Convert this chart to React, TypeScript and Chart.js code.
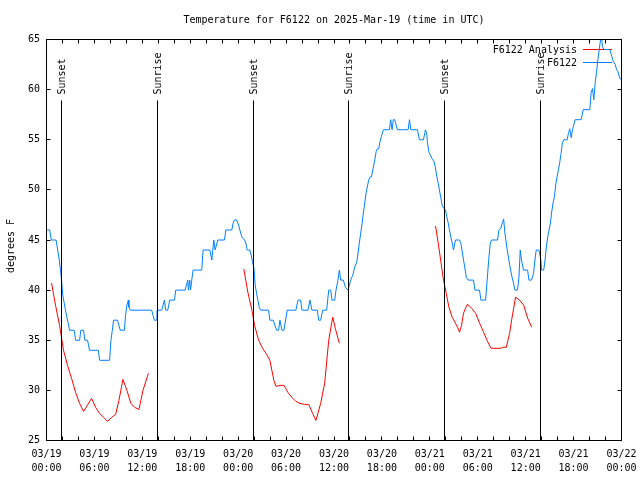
import { useEffect, useRef } from 'react';
import { Chart, registerables } from 'chart.js';

Chart.register(...registerables);

const TITLE = 'Temperature for F6122 on 2025-Mar-19 (time in UTC)';
const Y_LABEL = 'degrees F';
const SERIES_NAMES = ['F6122 Analysis', 'F6122'];
const SERIES_COLORS = ['#ff0000', '#0080ff'];
const DAY_LABELS = ['03/19', '03/20', '03/21', '03/22'];
const X_MIN_HOURS = 0;
const X_MAX_HOURS = 72;
const Y_MIN = 25;
const Y_MAX = 65;

// Sunset / sunrise events (hours since 03/19 00:00 UTC)
const sunEventHours = [1.9, 13.85, 25.9, 37.8, 49.85, 61.9];
const sunEventLabels = ['Sunset', 'Sunrise', 'Sunset', 'Sunrise', 'Sunset', 'Sunrise'];

// Analysis series, three nights: [hour, degF]
const analysisNight1: [number, number][] = [
  [0.63, 40.7], [1.13, 38.5], [1.63, 36.5], [2.13, 34], [2.63, 32.5], [3.14, 31.2], [3.64, 29.8],
  [4.14, 28.7], [4.64, 27.9], [5.64, 29.2], [6.15, 28.3], [6.65, 27.7], [7.15, 27.3], [7.65, 26.9],
  [8.15, 27.3], [8.66, 27.6], [9.07, 29], [9.57, 31.1], [10.07, 30], [10.57, 28.7], [11.04, 28.3],
  [11.58, 28.1], [12.08, 30], [12.76, 31.7],
];
const analysisNight2: [number, number][] = [
  [24.71, 42.1], [25.21, 39.8], [25.72, 38], [26.05, 36.5], [26.56, 35], [27.06, 34.2], [27.56, 33.6],
  [27.97, 33], [28.47, 31], [28.73, 30.4], [29.23, 30.5], [29.73, 30.5], [30.23, 29.8], [30.73, 29.3],
  [31.23, 28.9], [31.74, 28.7], [32.33, 28.6], [32.83, 28.6], [33.33, 27.7], [33.74, 27], [34.33, 28.7],
  [34.83, 30.7], [35.34, 35], [35.84, 37.3], [36.16, 36.2], [36.67, 34.7],
];
const analysisNight3: [number, number][] = [
  [48.71, 46.4], [49.05, 44.7], [49.39, 42.8], [49.71, 41], [50.05, 39.7], [50.39, 38.3], [50.8, 37.3],
  [51.14, 36.8], [51.47, 36.3], [51.72, 35.8], [51.97, 36.5], [52.22, 37.7], [52.47, 38.2], [52.72, 38.6],
  [53.22, 38.2], [53.73, 37.7], [54.23, 36.7], [54.73, 35.8], [55.16, 35], [55.66, 34.2], [56.91, 34.2],
  [57.07, 34.3], [57.58, 34.3], [57.99, 35.7], [58.24, 37], [58.74, 39.3], [59.24, 39], [59.75, 38.5],
  [60.25, 37.2], [60.75, 36.3],
];

// Observed series: [hour, degF]
const observedDay1: [number, number][] = [
  [0, 46], [0.4, 46], [0.6, 45], [1.2, 45], [1.4, 44], [1.6, 43], [1.75, 42], [1.88, 41], [2.04, 39.5],
  [2.22, 38.7], [2.38, 38], [2.55, 37.3], [2.72, 36.7], [2.89, 36], [3.47, 36], [3.64, 35], [4.14, 35],
  [4.3, 36], [4.64, 36], [4.8, 35], [5.14, 35], [5.39, 34], [6.49, 34], [6.65, 33], [7.9, 33], [8.07, 35],
  [8.24, 36], [8.4, 37], [8.9, 37], [9.06, 36.5], [9.24, 36], [9.75, 36], [9.9, 37.5], [10.07, 38.5],
  [10.25, 39], [10.32, 38.3], [10.5, 38], [13.17, 38], [13.33, 37.5], [13.5, 37], [13.75, 37], [13.83, 38],
  [14.43, 38], [14.6, 38.5], [14.76, 39], [14.93, 38], [15.18, 38], [15.43, 39], [16.02, 39], [16.18, 40],
  [17.35, 40], [17.69, 41], [17.77, 40], [17.94, 41], [18.03, 40], [18.35, 42], [19.44, 42], [19.61, 44],
  [20.45, 44], [20.7, 43], [20.95, 45], [21.11, 44], [21.45, 45], [22.29, 45], [22.45, 46], [23.21, 46],
  [23.37, 46.7], [23.55, 47], [23.8, 47],
];
const observedDay2: [number, number][] = [
  [24.05, 46.5], [24.21, 46], [24.46, 45.3], [24.8, 45], [24.96, 44.7], [25.13, 44], [25.46, 44],
  [25.63, 43.5], [25.8, 42.8], [25.97, 42.2], [26.05, 41.5], [26.13, 40.5], [26.3, 39.7], [26.47, 39],
  [26.63, 38.3], [26.81, 38], [27.81, 38], [27.97, 37], [28.39, 37], [28.81, 36], [29.06, 36], [29.23, 37],
  [29.48, 36], [29.73, 36], [30.14, 38], [31.23, 38], [31.49, 39], [31.82, 39], [31.99, 38], [32.74, 38],
  [32.99, 39], [33.24, 38], [33.91, 38], [34.08, 37], [34.33, 37], [34.58, 38], [35.08, 38], [35.34, 40],
  [35.59, 40], [35.75, 39], [36.09, 39], [36.25, 40], [36.5, 41], [36.67, 42], [36.84, 41], [37.17, 41],
  [37.42, 40.3], [37.76, 40], [38.09, 41], [38.35, 41.5], [38.6, 42.3], [38.85, 42.8], [39.01, 43.7],
  [39.17, 44.7], [39.35, 45.7], [39.52, 46.7], [39.68, 47.7], [39.85, 48.7], [40.02, 49.7], [40.35, 51],
  [40.52, 51.3], [40.68, 51.3], [40.86, 52], [41.11, 53], [41.27, 53.8], [41.43, 54.1], [41.6, 54.1],
  [41.76, 54.8], [41.93, 55.3], [42.1, 55.8], [42.18, 56], [42.93, 56], [43.1, 57], [43.27, 56], [43.43, 57],
  [43.6, 57], [43.77, 56.5], [43.94, 56], [45.28, 56], [45.45, 57], [45.62, 56], [46.45, 56], [46.7, 55],
  [47.2, 55], [47.38, 55.7], [47.45, 56], [47.63, 55.5], [47.7, 54.7], [47.88, 53.8],
];
const observedDay3: [number, number][] = [
  [48.04, 53.5], [48.29, 53.1], [48.54, 52.8], [48.7, 52.2], [48.88, 51.3], [49.04, 50.7], [49.2, 50],
  [49.38, 49.2], [49.54, 48.5], [49.7, 48.2], [49.96, 48], [50.13, 47.3], [50.3, 46.7], [50.46, 46],
  [50.63, 45.3], [50.8, 44.7], [50.96, 44], [51.21, 45], [51.71, 45], [51.88, 44.7], [52.06, 43.8],
  [52.22, 43], [52.39, 42.2], [52.56, 41.3], [52.81, 41], [53.47, 41], [53.65, 40], [54.22, 40], [54.4, 39],
  [54.98, 39], [55.15, 40.7], [55.4, 43.3], [55.57, 44.7], [55.73, 45], [56.48, 45], [56.65, 46],
  [56.9, 46.2], [57.07, 46.7], [57.24, 47.1], [57.4, 45.7], [57.57, 44.7], [57.73, 43.8], [57.9, 43],
  [58.07, 42.2], [58.23, 41.5], [58.48, 40.7], [58.66, 40], [58.98, 40], [59.16, 41.3], [59.32, 44],
  [59.48, 43], [59.73, 42], [60.24, 42], [60.41, 41], [60.74, 41], [60.99, 41.7], [61.16, 43], [61.32, 44],
  [61.66, 44], [61.91, 43], [61.99, 42], [62.26, 42], [62.43, 43], [62.59, 44.3], [62.76, 45.3],
  [62.93, 46], [63.1, 46.7], [63.26, 47.8], [63.43, 48.7], [63.6, 49.3], [63.76, 50.5], [63.93, 51.3],
  [64.1, 52], [64.26, 52.7], [64.44, 53.7], [64.6, 54.7], [64.77, 55], [65.19, 55], [65.35, 55.6],
  [65.52, 56.1], [65.7, 55.2], [65.86, 56], [66.2, 57], [66.95, 57], [67.2, 58], [68.03, 58], [68.2, 59.7],
  [68.37, 60.1], [68.53, 59], [68.71, 60.7], [68.87, 61.7], [69.04, 63], [69.21, 64], [69.46, 65.5],
  [69.62, 64.3], [69.79, 64], [70.54, 64], [70.72, 63.5], [70.97, 62.8], [71.22, 62.5], [71.38, 62],
  [71.55, 61.8], [71.72, 61.3], [71.88, 61],
];

const FONT = "'DejaVu Sans Mono', 'Liberation Mono', monospace";

const toPoints = (arr: [number, number][]) => arr.map(([x, y]) => ({ x, y }));

const decorPlugin = {
  id: 'decor',
  beforeDatasetsDraw(chart: any) {
    const { ctx, chartArea: ca } = chart;
    ctx.save();
    ctx.font = `10px ${FONT}`;
    ctx.textAlign = 'right';
    ctx.textBaseline = 'middle';
    ctx.fillStyle = '#000';
    const rows = [ca.top + 10.5, ca.top + 23.5];
    SERIES_NAMES.forEach((name, i) => {
      ctx.fillText(name, ca.right - 44.5, rows[i]);
      ctx.strokeStyle = SERIES_COLORS[i];
      ctx.lineWidth = 1;
      ctx.beginPath();
      ctx.moveTo(ca.right - 38.5, Math.round(rows[i]) - 0.5);
      ctx.lineTo(ca.right - 9.5, Math.round(rows[i]) - 0.5);
      ctx.stroke();
    });
    ctx.restore();
  },
  afterDatasetsDraw(chart: any) {
    const { ctx, chartArea: ca, scales } = chart;
    ctx.save();
    ctx.strokeStyle = '#000';
    ctx.fillStyle = '#000';
    ctx.lineWidth = 1;
    ctx.font = `10px ${FONT}`;
    sunEventHours.forEach((h, i) => {
      const px = Math.floor(scales.x.getPixelForValue(h)) + 0.5;
      ctx.beginPath();
      ctx.moveTo(px, ca.top + 61);
      ctx.lineTo(px, ca.bottom);
      ctx.stroke();
      ctx.save();
      ctx.translate(px + 1, ca.top + 55);
      ctx.rotate(-Math.PI / 2);
      ctx.textAlign = 'left';
      ctx.textBaseline = 'middle';
      ctx.fillText(sunEventLabels[i], 0, 0);
      ctx.restore();
    });
    ctx.restore();
  },
  afterDraw(chart: any) {
    const { ctx, chartArea: ca, scales } = chart;
    ctx.save();
    ctx.strokeStyle = '#000';
    ctx.lineWidth = 1;
    ctx.strokeRect(ca.left, ca.top, ca.right - ca.left, ca.bottom - ca.top);
    const tl = 4;
    ctx.beginPath();
    scales.x.ticks.forEach((t: any) => {
      const px = Math.floor(scales.x.getPixelForValue(t.value)) + 0.5;
      ctx.moveTo(px, ca.bottom);
      ctx.lineTo(px, ca.bottom - tl);
      ctx.moveTo(px, ca.top);
      ctx.lineTo(px, ca.top + tl);
    });
    scales.y.ticks.forEach((t: any) => {
      const py = Math.floor(scales.y.getPixelForValue(t.value)) + 0.5;
      ctx.moveTo(ca.left, py);
      ctx.lineTo(ca.left + tl, py);
      ctx.moveTo(ca.right, py);
      ctx.lineTo(ca.right - tl, py);
    });
    ctx.stroke();

    ctx.fillStyle = '#000';
    ctx.font = `10px ${FONT}`;
    ctx.textAlign = 'center';
    ctx.textBaseline = 'middle';
    ctx.fillText(TITLE, (ca.left + ca.right) / 2, 20);

    ctx.save();
    ctx.translate(11, (ca.top + ca.bottom) / 2 + 6);
    ctx.rotate(-Math.PI / 2);
    ctx.fillText(Y_LABEL, 0, 0);
    ctx.restore();
    ctx.restore();
  },
};

export default function App() {
  const canvasRef = useRef<HTMLCanvasElement | null>(null);

  useEffect(() => {
    document.body.style.margin = '0';
    const canvas = canvasRef.current;
    if (!canvas) return;
    const analysisData = [
      ...toPoints(analysisNight1),
      { x: 18, y: null },
      ...toPoints(analysisNight2),
      { x: 42, y: null },
      ...toPoints(analysisNight3),
    ];
    const observedData = toPoints([...observedDay1, ...observedDay2, ...observedDay3]);

    const chart = new Chart(canvas, {
      type: 'line',
      data: {
        datasets: [
          {
            label: SERIES_NAMES[0],
            data: analysisData as any,
            borderColor: SERIES_COLORS[0],
            backgroundColor: SERIES_COLORS[0],
            borderWidth: 1,
            pointRadius: 0,
            tension: 0,
            spanGaps: false,
          },
          {
            label: SERIES_NAMES[1],
            data: observedData as any,
            borderColor: SERIES_COLORS[1],
            backgroundColor: SERIES_COLORS[1],
            borderWidth: 1,
            pointRadius: 0,
            tension: 0,
          },
        ],
      },
      options: {
        animation: false,
        responsive: false,
        devicePixelRatio: 1,
        layout: { padding: { top: 39.5, right: 18.5, left: 0, bottom: 0 } },
        plugins: {
          legend: { display: false },
          tooltip: { enabled: false },
          title: { display: false },
        },
        scales: {
          x: {
            type: 'linear',
            min: X_MIN_HOURS,
            max: X_MAX_HOURS,
            grid: { display: false, drawTicks: false },
            border: { display: false },
            afterFit: (s: any) => {
              s.height = 39.5;
              s.paddingLeft = 0;
              s.paddingRight = 0;
            },
            ticks: {
              stepSize: 2,
              autoSkip: false,
              maxRotation: 0,
              minRotation: 0,
              padding: 7,
              color: '#000',
              font: { family: FONT, size: 10, lineHeight: 1.4 },
              callback: (v: any) => {
                const n = Number(v);
                if (n % 6 !== 0) return '';
                const day = DAY_LABELS[Math.floor(n / 24)];
                const hh = String(n % 24).padStart(2, '0');
                return [day, `${hh}:00`];
              },
            },
          },
          y: {
            type: 'linear',
            min: Y_MIN,
            max: Y_MAX,
            grid: { display: false, drawTicks: false },
            border: { display: false },
            afterFit: (s: any) => {
              s.width = 46.5;
              s.paddingTop = 0;
              s.paddingBottom = 0;
            },
            ticks: {
              stepSize: 5,
              padding: 6.5,
              color: '#000',
              font: { family: FONT, size: 10 },
            },
          },
        },
      },
      plugins: [decorPlugin],
    });
    return () => chart.destroy();
  }, []);

  return (
    <div style={{ width: 640, height: 480, background: '#fff' }}>
      <canvas ref={canvasRef} width={640} height={480} />
    </div>
  );
}
